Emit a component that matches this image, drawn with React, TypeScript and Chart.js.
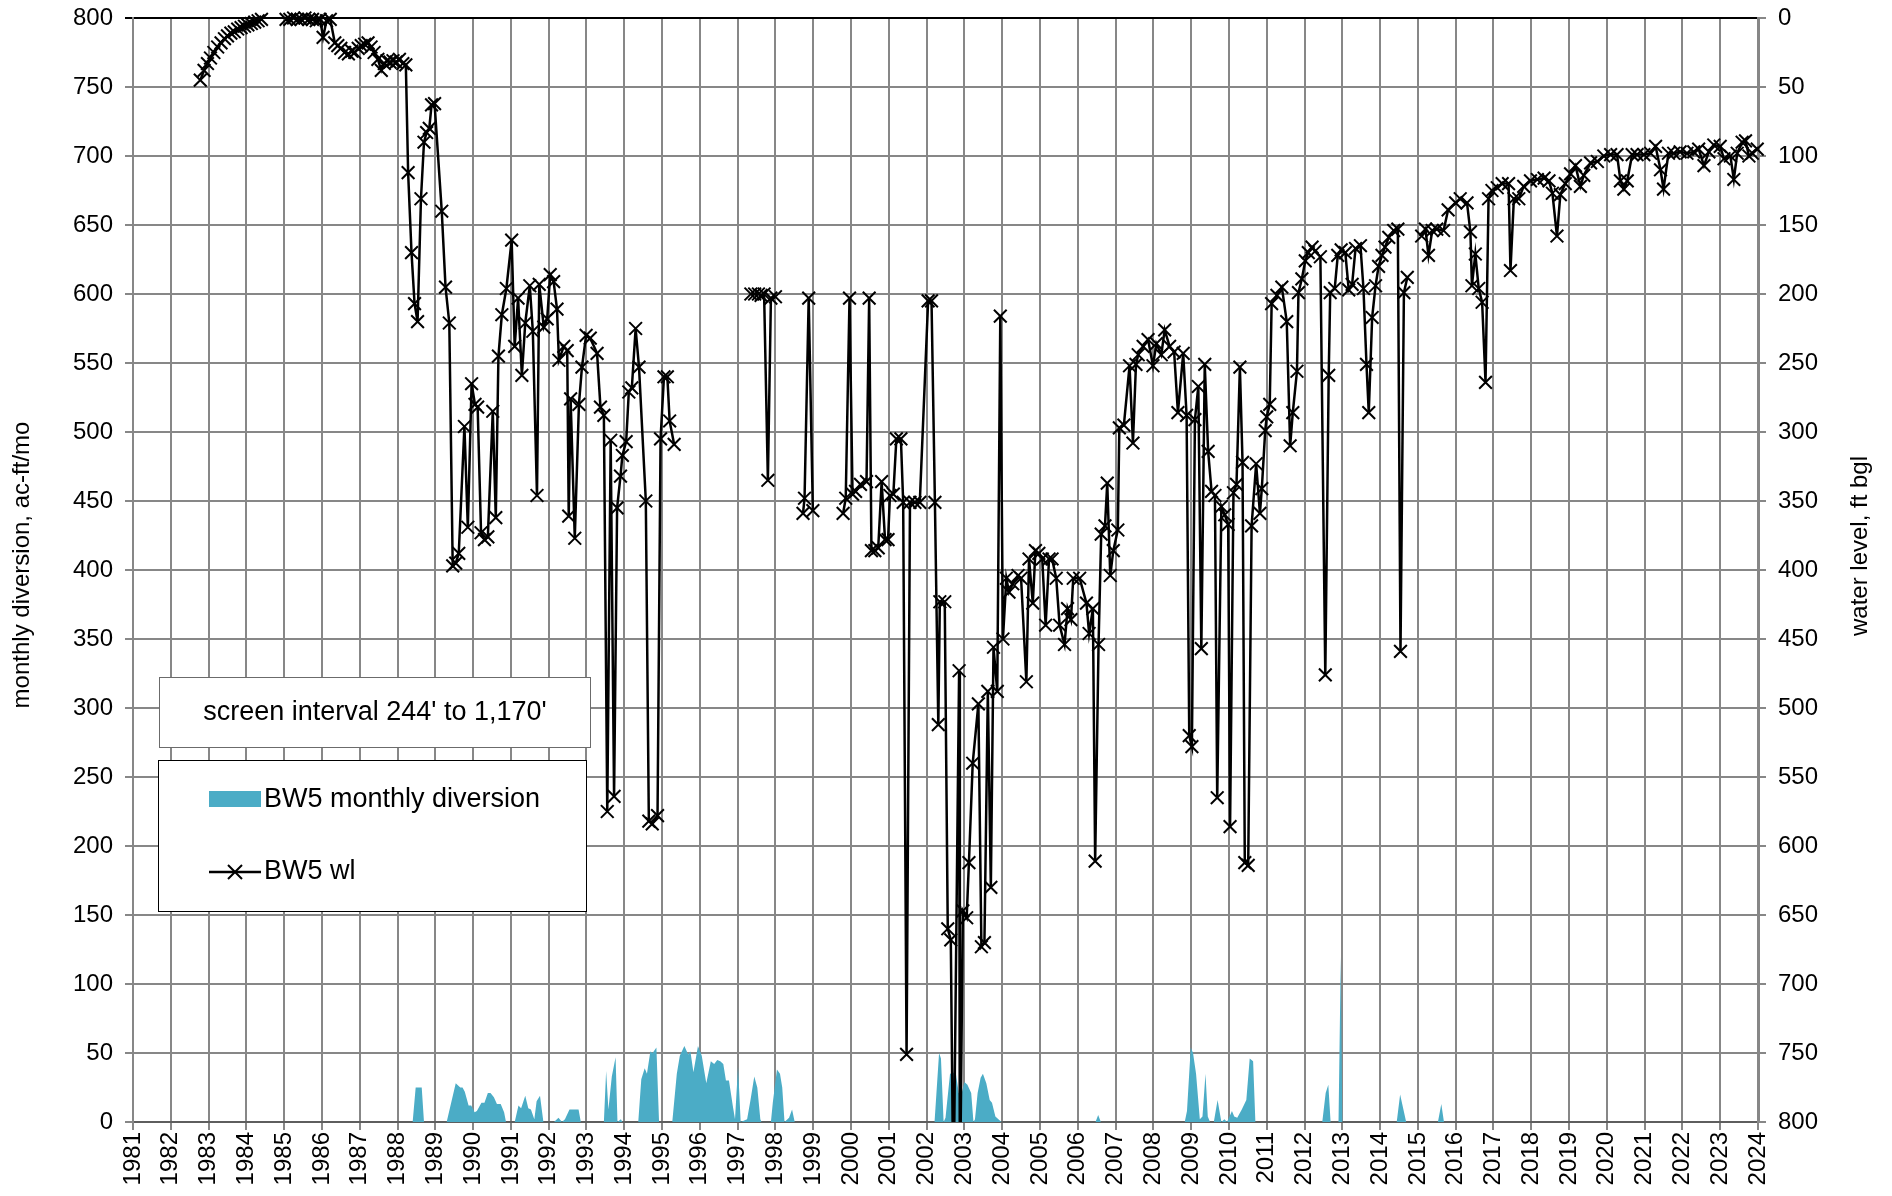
import React, { useEffect, useRef } from 'react';
import { Chart, registerables } from 'chart.js';

Chart.register(...registerables);

// ---------- data ----------
const xMin = 1981;
const xMax = 2024;
const leftMin = 0;
const leftMax = 800;
const rightMin = 0;
const rightMax = 800;
const tickStep = 50;

const leftTitle = 'monthly diversion, ac-ft/mo';
const rightTitle = 'water level, ft bgl';
const noteText = "screen interval 244' to 1,170'";
const divLabel = 'BW5 monthly diversion';
const wlLabel = 'BW5 wl';

// water level (ft below ground), [year, depth]; runs are separated by gaps
const wlRun1: [number, number][] = [
  [1982.78, 45], [1982.88, 38], [1982.97, 33], [1983.05, 29], [1983.14, 25], [1983.24, 21], [1983.33, 18],
  [1983.42, 15], [1983.5, 13], [1983.59, 11], [1983.68, 10], [1983.77, 8], [1983.86, 7], [1983.95, 6],
  [1984.04, 5], [1984.13, 4], [1984.22, 3], [1984.31, 2], [1984.4, 1],
];
const wlRun2: [number, number][] = [
  [1985.05, 1], [1985.15, 1], [1985.25, 0], [1985.35, 1], [1985.45, 1], [1985.55, 0], [1985.65, 1],
  [1985.75, 1], [1985.85, 2], [1985.95, 1], [1986.03, 14], [1986.12, 2], [1986.22, 1], [1986.34, 18],
  [1986.42, 20], [1986.5, 22], [1986.6, 25], [1986.7, 26], [1986.79, 24], [1986.87, 25], [1986.96, 22],
  [1987.04, 20], [1987.13, 19], [1987.22, 18], [1987.3, 21], [1987.38, 25], [1987.48, 30], [1987.57, 38],
  [1987.65, 33], [1987.72, 31], [1987.8, 32], [1987.88, 31], [1987.96, 32], [1988.05, 30], [1988.14, 33],
  [1988.22, 34], [1988.28, 112], [1988.37, 170], [1988.45, 207], [1988.53, 220], [1988.62, 131],
  [1988.7, 90], [1988.77, 83], [1988.84, 80], [1988.9, 63], [1988.98, 62], [1989.17, 140], [1989.27, 195],
  [1989.37, 221], [1989.46, 397], [1989.54, 395], [1989.62, 388], [1989.77, 296], [1989.86, 369],
  [1989.96, 265], [1990.05, 280], [1990.12, 282], [1990.21, 373], [1990.3, 378], [1990.39, 376],
  [1990.52, 285], [1990.6, 362], [1990.67, 245], [1990.76, 215], [1990.88, 196], [1991.02, 161],
  [1991.1, 238], [1991.19, 203], [1991.29, 259], [1991.38, 221], [1991.5, 194], [1991.58, 227],
  [1991.69, 346], [1991.75, 193], [1991.87, 224], [1991.96, 218], [1992.04, 186], [1992.13, 191],
  [1992.22, 211], [1992.27, 248], [1992.4, 238], [1992.49, 241], [1992.53, 361], [1992.58, 276],
  [1992.69, 377], [1992.8, 280], [1992.88, 253], [1992.99, 230], [1993.1, 232], [1993.28, 243],
  [1993.37, 282], [1993.46, 288], [1993.55, 575], [1993.64, 306], [1993.73, 564], [1993.81, 355],
  [1993.9, 332], [1993.95, 317], [1994.05, 307], [1994.12, 271], [1994.2, 268], [1994.3, 225],
  [1994.39, 253], [1994.57, 350], [1994.65, 582], [1994.74, 584], [1994.88, 578], [1994.96, 305],
  [1995.05, 260], [1995.14, 260], [1995.2, 292], [1995.32, 309],
];
const wlRun3: [number, number][] = [
  [1997.35, 200], [1997.45, 200], [1997.55, 200], [1997.62, 201], [1997.7, 200], [1997.8, 335],
  [1997.88, 203], [1998.0, 202],
];
const wlRun4: [number, number][] = [
  [1998.73, 359], [1998.77, 348], [1998.88, 203], [1998.99, 357],
];
const wlRun5: [number, number][] = [
  [1999.79, 359], [1999.86, 348], [1999.96, 203], [2000.04, 345], [2000.12, 343], [2000.25, 338],
  [2000.41, 336], [2000.48, 203], [2000.54, 386], [2000.63, 386], [2000.72, 384], [2000.81, 336],
  [2000.9, 378], [2000.98, 378], [2001.03, 346], [2001.12, 345], [2001.2, 305], [2001.32, 305],
  [2001.38, 351], [2001.47, 751], [2001.56, 351], [2001.69, 351], [2001.82, 351], [2002.04, 205],
  [2002.13, 205], [2002.22, 351], [2002.31, 512], [2002.35, 423], [2002.48, 423], [2002.56, 660],
  [2002.64, 668], [2002.71, 860], [2002.86, 473], [2002.88, 860], [2002.96, 647], [2003.06, 652],
  [2003.12, 612], [2003.22, 540], [2003.37, 497], [2003.45, 673], [2003.53, 670], [2003.62, 488],
  [2003.7, 630], [2003.77, 456], [2003.87, 488], [2003.95, 216], [2004.02, 450], [2004.11, 406],
  [2004.18, 416], [2004.28, 410], [2004.42, 404], [2004.5, 406], [2004.64, 481], [2004.71, 392],
  [2004.81, 424], [2004.88, 386], [2004.97, 388], [2005.06, 392], [2005.15, 440], [2005.24, 392],
  [2005.32, 392], [2005.43, 406], [2005.52, 440], [2005.65, 454], [2005.73, 428], [2005.82, 436],
  [2005.88, 406], [2006.05, 406], [2006.23, 424], [2006.3, 446], [2006.4, 428], [2006.46, 611],
  [2006.55, 454], [2006.62, 374], [2006.72, 368], [2006.78, 337], [2006.86, 404], [2006.94, 386],
  [2007.06, 371], [2007.1, 297], [2007.22, 295], [2007.37, 252], [2007.46, 308], [2007.54, 251],
  [2007.6, 244], [2007.73, 238], [2007.86, 233], [2007.99, 252], [2008.08, 236], [2008.21, 244],
  [2008.3, 226], [2008.43, 238], [2008.55, 242], [2008.65, 286], [2008.79, 243], [2008.88, 288],
  [2008.95, 520], [2009.02, 528], [2009.1, 291], [2009.19, 267], [2009.27, 457], [2009.36, 251],
  [2009.45, 314], [2009.54, 343], [2009.63, 346], [2009.69, 565], [2009.8, 354], [2009.89, 360],
  [2009.98, 367], [2010.03, 586], [2010.12, 344], [2010.2, 338], [2010.29, 253], [2010.36, 322],
  [2010.42, 612], [2010.51, 614], [2010.6, 368], [2010.72, 323], [2010.82, 359], [2010.87, 341],
  [2010.96, 299], [2011.0, 289], [2011.08, 280], [2011.13, 207], [2011.27, 201], [2011.4, 195],
  [2011.53, 220], [2011.62, 310], [2011.69, 286], [2011.8, 256], [2011.84, 199], [2011.93, 189],
  [2012.02, 176], [2012.1, 170], [2012.2, 166], [2012.28, 169], [2012.42, 173], [2012.55, 476],
  [2012.64, 259], [2012.68, 199], [2012.8, 196], [2012.88, 172], [2012.97, 168], [2013.08, 170],
  [2013.17, 197], [2013.26, 193], [2013.35, 167], [2013.48, 165], [2013.56, 196], [2013.64, 251],
  [2013.7, 286], [2013.79, 217], [2013.88, 194], [2013.96, 180], [2014.05, 172], [2014.13, 166],
  [2014.23, 159], [2014.36, 154], [2014.47, 153], [2014.54, 459], [2014.63, 199], [2014.72, 188],
];
const wlRun6: [number, number][] = [
  [2015.1, 158], [2015.2, 153], [2015.28, 172], [2015.38, 154], [2015.5, 153], [2015.68, 154],
  [2015.8, 139], [2016.0, 134], [2016.12, 131], [2016.3, 134], [2016.39, 155], [2016.43, 194],
  [2016.52, 171], [2016.61, 196], [2016.7, 206], [2016.79, 264], [2016.87, 131], [2016.96, 125],
  [2017.1, 123], [2017.23, 120], [2017.4, 120], [2017.45, 183], [2017.54, 131], [2017.67, 131],
  [2017.8, 122], [2017.98, 118], [2018.16, 117], [2018.34, 116], [2018.47, 118], [2018.56, 127],
  [2018.68, 158], [2018.77, 128], [2018.9, 120], [2019.04, 113], [2019.17, 107], [2019.3, 122],
  [2019.39, 114], [2019.57, 105], [2019.75, 104], [2019.92, 100], [2020.1, 99], [2020.27, 99],
  [2020.36, 118], [2020.45, 124], [2020.54, 118], [2020.67, 99], [2020.8, 99], [2020.98, 99],
  [2021.16, 98], [2021.29, 93], [2021.42, 110], [2021.5, 124], [2021.63, 98], [2021.77, 98],
  [2021.94, 97], [2022.12, 98], [2022.3, 97], [2022.43, 95], [2022.57, 107], [2022.7, 97],
  [2022.83, 92], [2023.0, 93], [2023.1, 102], [2023.27, 100], [2023.36, 117], [2023.45, 98],
  [2023.58, 90], [2023.67, 89], [2023.76, 100], [2023.85, 98], [2023.98, 95],
];

// monthly diversion (ac-ft/mo), [year, value]
const divEarly: [number, number][] = [
  [1981.0, 0], [1988.4, 0], [1988.48, 25], [1988.64, 25], [1988.7, 0],
  [1989.3, 0], [1989.54, 28], [1989.66, 25], [1989.72, 25], [1989.78, 22], [1989.88, 12], [1989.95, 12],
  [1990.04, 7], [1990.1, 8], [1990.22, 14], [1990.3, 14], [1990.39, 21], [1990.46, 21], [1990.55, 18],
  [1990.63, 13], [1990.73, 13], [1990.82, 7], [1990.87, 0],
  [1991.1, 0], [1991.2, 12], [1991.27, 10], [1991.38, 19], [1991.46, 10], [1991.53, 9], [1991.62, 2],
  [1991.68, 15], [1991.77, 19], [1991.86, 0],
  [1992.14, 0], [1992.26, 3], [1992.35, 0], [1992.43, 2], [1992.55, 9], [1992.67, 9], [1992.79, 9], [1992.85, 0],
];
const divMid: [number, number][] = [
  [1993.46, 0], [1993.52, 37], [1993.58, 9], [1993.67, 33], [1993.77, 47], [1993.82, 0], [1993.91, 2], [1993.95, 0],
  [1994.37, 0], [1994.45, 31], [1994.54, 39], [1994.6, 35], [1994.69, 51], [1994.75, 50], [1994.85, 54], [1994.92, 0],
  [1995.27, 0], [1995.39, 35], [1995.47, 48], [1995.59, 55], [1995.69, 49], [1995.75, 51], [1995.83, 36],
  [1995.95, 55], [1996.05, 48], [1996.17, 28], [1996.29, 44], [1996.38, 42], [1996.46, 45], [1996.54, 44],
  [1996.62, 42], [1996.69, 30], [1996.77, 30], [1996.87, 12], [1996.93, 2], [1997.01, 40], [1997.08, 0],
  [1997.25, 2], [1997.34, 16], [1997.44, 33], [1997.52, 25], [1997.6, 2], [1997.63, 0],
  [1997.88, 0], [1997.93, 14], [1998.04, 38], [1998.12, 35], [1998.18, 25], [1998.24, 0], [1998.36, 3],
  [1998.44, 9], [1998.51, 0],
];
const divLate: [number, number][] = [
  [2002.21, 0], [2002.33, 50], [2002.38, 46], [2002.45, 0], [2002.5, 3], [2002.62, 35], [2002.77, 36],
  [2002.85, 21], [2002.92, 20], [2003.0, 29], [2003.08, 27], [2003.18, 21], [2003.24, 0], [2003.28, 2],
  [2003.35, 21], [2003.43, 32], [2003.49, 35], [2003.58, 28], [2003.67, 16], [2003.73, 14], [2003.82, 4],
  [2003.9, 2], [2003.98, 0],
  [2006.47, 0], [2006.54, 5], [2006.61, 0],
  [2008.83, 0], [2008.89, 8], [2008.99, 54], [2009.05, 50], [2009.13, 35], [2009.23, 2], [2009.3, 4],
  [2009.38, 35], [2009.44, 4], [2009.5, 0], [2009.6, 0], [2009.7, 16], [2009.8, 0], [2009.88, 2],
  [2009.95, 0], [2010.08, 8], [2010.14, 4], [2010.22, 3], [2010.34, 9], [2010.46, 16], [2010.55, 46],
  [2010.64, 44], [2010.7, 0],
  [2012.47, 0], [2012.56, 21], [2012.63, 27], [2012.69, 0],
  [2012.9, 0], [2012.96, 120], [2013.0, 0],
  [2014.44, 0], [2014.53, 20], [2014.69, 0],
  [2015.53, 0], [2015.62, 13], [2015.69, 0], [2024.0, 0],
];

// ---------- styling ----------
const FONT = "'Liberation Sans', Arial, Helvetica, sans-serif";
const GRID = '#878787';
const TEAL = '#4bacc6';

function toPoints(runs: [number, number][][]) {
  const out: { x: number; y: number | null }[] = [];
  runs.forEach((run, i) => {
    if (i > 0) out.push({ x: (runs[i - 1][runs[i - 1].length - 1][0] + run[0][0]) / 2, y: null });
    run.forEach(([x, y]) => out.push({ x, y }));
  });
  return out;
}

const overlayPlugin = {
  id: 'overlay',
  afterDraw(chart: any) {
    const ctx: CanvasRenderingContext2D = chart.ctx;
    ctx.save();
    ctx.fillStyle = '#000';
    ctx.textBaseline = 'middle';
    ctx.textAlign = 'center';
    ctx.font = `24px ${FONT}`;
    // axis titles (both read bottom-to-top)
    ctx.save();
    ctx.translate(22, 565);
    ctx.rotate(-Math.PI / 2);
    ctx.fillText(leftTitle, 0, 0);
    ctx.restore();
    ctx.save();
    ctx.translate(1860, 546);
    ctx.rotate(-Math.PI / 2);
    ctx.fillText(rightTitle, 0, 0);
    ctx.restore();

    // note box
    ctx.fillStyle = '#fff';
    ctx.fillRect(159, 677, 431, 70);
    ctx.strokeStyle = '#6b6b6b';
    ctx.lineWidth = 1;
    ctx.strokeRect(159.5, 677.5, 431, 70);
    ctx.fillStyle = '#000';
    ctx.font = `27px ${FONT}`;
    ctx.fillText(noteText, 375, 713);

    // legend box
    ctx.fillStyle = '#fff';
    ctx.fillRect(158, 760, 428, 151);
    ctx.strokeStyle = '#000';
    ctx.strokeRect(158.5, 760.5, 428, 151);
    ctx.fillStyle = TEAL;
    ctx.fillRect(209, 791, 52, 16);
    ctx.strokeStyle = '#000';
    ctx.lineWidth = 2.5;
    ctx.beginPath();
    ctx.moveTo(209, 872);
    ctx.lineTo(261, 872);
    ctx.stroke();
    ctx.lineWidth = 2;
    ctx.beginPath();
    ctx.moveTo(228, 865);
    ctx.lineTo(242, 879);
    ctx.moveTo(242, 865);
    ctx.lineTo(228, 879);
    ctx.stroke();
    ctx.fillStyle = '#000';
    ctx.textAlign = 'left';
    ctx.fillText(divLabel, 264, 800);
    ctx.fillText(wlLabel, 264, 872);
    ctx.restore();
  },
};

export default function App() {
  const ref = useRef<HTMLCanvasElement>(null);
  useEffect(() => {
    document.body.style.margin = '0';
    const canvas = ref.current!;
    const chart = new Chart(canvas, {
      type: 'line',
      data: {
        datasets: [
          {
            label: wlLabel,
            data: toPoints([wlRun1, wlRun2, wlRun3, wlRun4, wlRun5, wlRun6]) as any,
            yAxisID: 'yR',
            borderColor: '#000',
            borderWidth: 2.5,
            pointStyle: 'crossRot',
            pointRadius: 9,
            pointBorderColor: '#000',
            pointBackgroundColor: '#000',
            pointBorderWidth: 2,
            spanGaps: false,
            fill: false,
            tension: 0,
            order: 0,
            clip: { left: 0, top: 14, right: 12, bottom: 0 } as any,
          },
          {
            label: divLabel,
            data: [...divEarly, ...divMid, ...divLate].map(([x, y]) => ({ x, y })) as any,
            yAxisID: 'yL',
            borderColor: TEAL,
            borderWidth: 0,
            backgroundColor: TEAL,
            pointRadius: 0,
            fill: 'origin',
            tension: 0,
            order: 1,
          },
        ],
      },
      options: {
        animation: false,
        responsive: false,
        maintainAspectRatio: false,
        events: [],
        layout: { padding: { top: 18, left: 0, right: 0, bottom: 0 } },
        plugins: { legend: { display: false }, tooltip: { enabled: false } },
        scales: {
          x: {
            type: 'linear',
            min: xMin,
            max: xMax,
            afterFit: (s: any) => { s.height = 74; s.paddingLeft = 0; s.paddingRight = 0; },
            ticks: {
              stepSize: 1,
              autoSkip: false,
              maxRotation: 90,
              minRotation: 90,
              padding: 2,
              color: '#000',
              font: { family: FONT, size: 24 },
              callback: (v: any) => String(v),
            },
            grid: { color: GRID, lineWidth: 2, tickLength: 8, drawTicks: true },
            border: { display: true, color: '#5e5e5e', width: 2 },
          },
          yL: {
            type: 'linear',
            position: 'left',
            min: leftMin,
            max: leftMax,
            afterFit: (s: any) => { s.width = 133; s.paddingTop = 0; s.paddingBottom = 0; },
            ticks: { stepSize: tickStep, padding: 12, color: '#000', font: { family: FONT, size: 24 } },
            grid: {
              color: (c: any) => (c.tick && c.tick.value === leftMax ? '#000' : GRID),
              lineWidth: 2,
              tickLength: 8,
            },
            border: { display: true, color: GRID, width: 2 },
          },
          yR: {
            type: 'linear',
            position: 'right',
            min: rightMin,
            max: rightMax,
            reverse: true,
            afterFit: (s: any) => { s.width = 134; s.paddingTop = 0; s.paddingBottom = 0; },
            ticks: { stepSize: tickStep, padding: 12, color: '#000', font: { family: FONT, size: 24 } },
            grid: { drawOnChartArea: false, color: GRID, lineWidth: 2, tickLength: 8 },
            border: { display: true, color: GRID, width: 3 },
          },
        },
      },
      plugins: [overlayPlugin],
    });
    return () => chart.destroy();
  }, []);
  return (
    <div style={{ width: 1892, height: 1196, position: 'relative' }}>
      <canvas ref={ref} width={1892} height={1196} style={{ display: 'block', width: 1892, height: 1196 }} />
    </div>
  );
}
